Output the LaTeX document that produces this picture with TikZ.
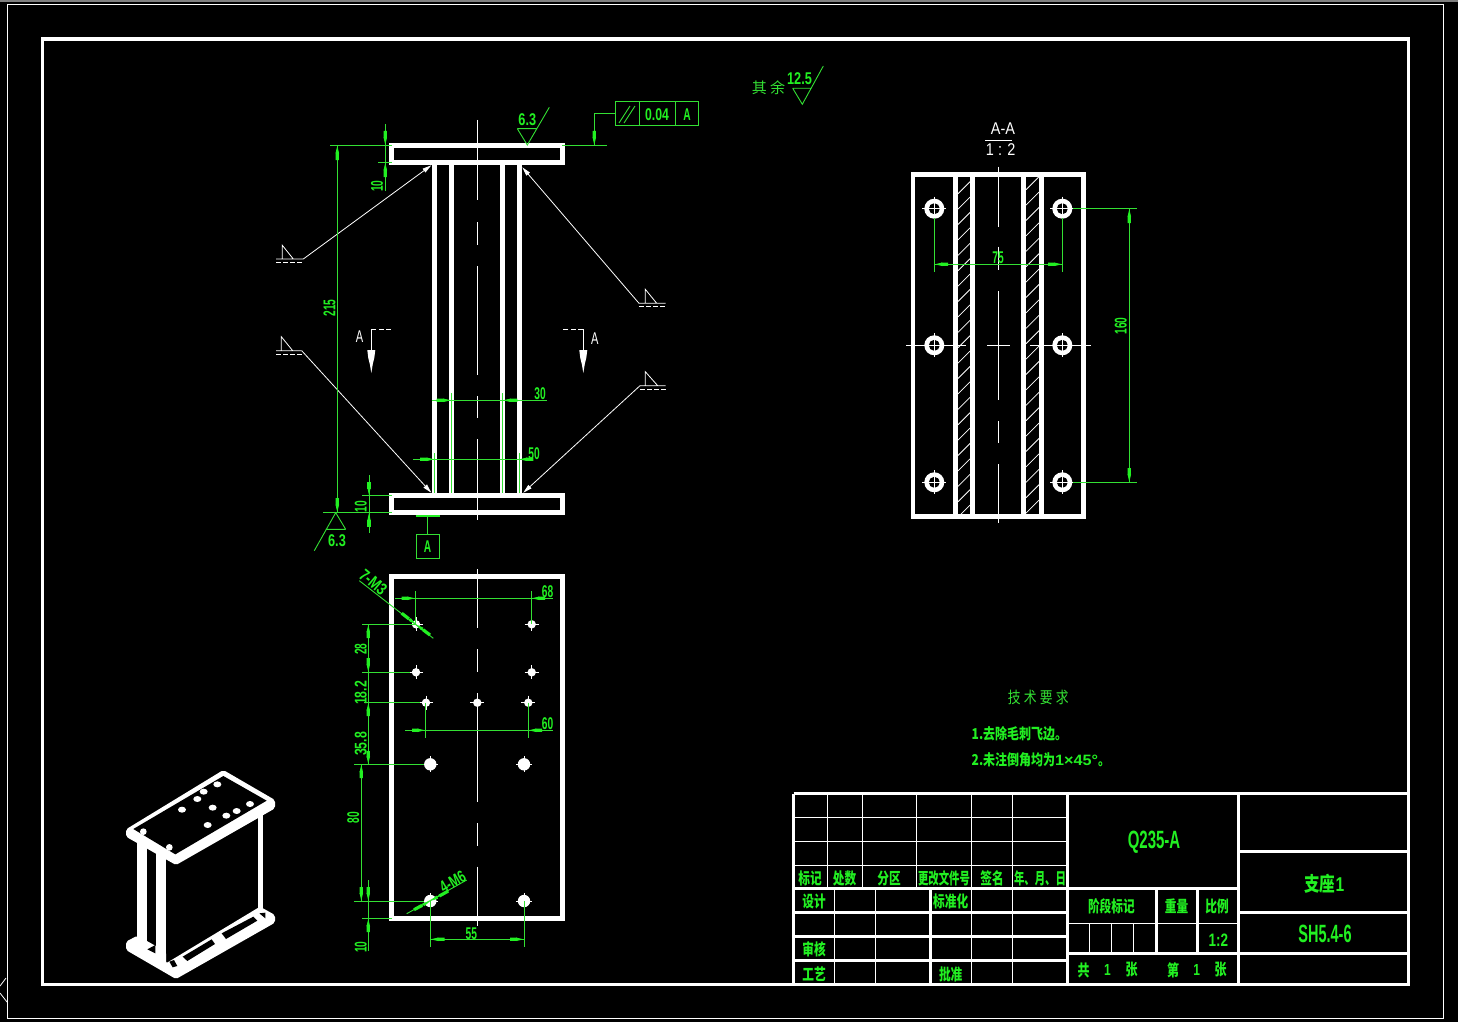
\documentclass[tikz,border=0pt]{standalone}
\usepackage{graphicx}
\usepackage{fontspec}
\setmainfont{Liberation Sans}
\newfontfamily\cjk{Noto Sans CJK SC}
\usetikzlibrary{arrows.meta,calc}
\definecolor{gl}{HTML}{33E033}
\definecolor{gt}{HTML}{22F022}
\newcommand\nrw[2][.6]{\scalebox{#1}[1]{#2}}
\newcommand\AR[2]{\draw[gline,draw=gt,line width=3.2pt] (#1)--($(#1)!.5!(#2)$);\draw[gline,draw=gt,-{Triangle[length=8pt,width=3.2pt]}] ($(#1)!.45!(#2)$)--(#2);}
\newcommand\WA[2]{\draw[wthin,-{Triangle[length=9pt,width=4.5pt]}] (#1)--(#2);}
\newcommand\fsize[1]{\fontsize{#1}{#1}\selectfont}
\tikzset{
 thickw/.style={draw=white,line width=4.6pt},
 framew/.style={draw=white,line width=3.3pt},
 wthin/.style={draw=white,line width=.8pt},
 gline/.style={draw=gl,line width=.9pt},
 dimtx/.style={text=gt,inner sep=0pt,font=\fsize{17}\bfseries},
 cjkb/.style={text=gt,inner sep=0pt,font=\fsize{16}\cjk\bfseries},
 cjkr/.style={text=gl,inner sep=0pt,font=\fsize{16}\cjk},
 whtx/.style={text=white,inner sep=0pt,font=\fsize{17}},
 tthin/.style={draw=white,line width=1pt},
 tfat/.style={draw=white,line width=2.8pt},
}
\begin{document}
\begin{tikzpicture}[x=1pt,y=-1pt]
\useasboundingbox (0,0) rectangle (1458,1022);
\fill[black] (0,0) rectangle (1458,1022);
\fill[gray] (0,0) rectangle (1458,2);
% sheet borders
\draw[wthin,line width=1pt] (7.3,4.5) rectangle (1443.3,1018.3);
\draw[framew] (42.7,39) rectangle (1408.3,984.6);
\draw[wthin] (6,978)--(0,986) (0,993)--(7,1002);
% ---------- front view
\draw[thickw] (391.7,145.6) rectangle (562.4,162.4);
\draw[thickw] (391.7,495.7) rectangle (562.4,512.4);
\foreach \x in {434.5,451.5,502.5,519.5}{\draw[draw=white,line width=4.6pt] (\x,164)--(\x,494);}
\draw[wthin] (477.3,120)--(477.3,200) (477.3,222)--(477.3,245) (477.3,266)--(477.3,375) (477.3,396)--(477.3,418) (477.3,439)--(477.3,520);
% weld symbols
\foreach \xa/\xb/\xc/\xd/\ya/\yb in {276/303.3/282.3/293.3/259/245.3, 639/665.7/645.3/656.7/303.3/289.3, 276/301.7/281.3/292.7/350.7/336.7, 640/665.7/645.3/657.7/385.7/371.7}{
 \draw[wthin] (\xa,\ya)--(\xb,\ya) (\xc,\ya)--(\xc,\yb)--(\xd,\ya);
 \draw[wthin,dash pattern=on 5pt off 2pt] (\xa,\ya+3.5)--(\xb,\ya+3.5);
}
\WA{303.3,259}{431.3,165.3}
\WA{639,303.3}{522.3,167.3}
\WA{301.7,350.7}{431.3,492.7}
\WA{640,385.7}{523.3,492.7}
% section marks
\foreach \x/\xe in {371.3/393.3,583.3/561}{
 \draw[wthin] (\x,350)--(\x,329.3);
 \draw[wthin,dash pattern=on 5pt off 2.5pt] (\x,329.3)--(\xe,329.3);
 \fill[white] (\x-4,350)--(\x+4,350)--(\x+3,358)--(\x+1.5,364)--(\x,373)--(\x-1.5,364)--(\x-3,358)--cycle;
}
\node[whtx] (secAl) at (359.5,336.5) {\nrw[.65]{A}};
\node[whtx] (secAr) at (594.7,339) {\nrw[.65]{A}};
% front view dims
\draw[gline] (330,145.3)--(392,145.3) (323,512.7)--(392,512.7) (378,162.3)--(392,162.3) (362,495.3)--(392,495.3);
\draw[gline] (337.3,145.3)--(337.3,512.7);
\AR{337.3,160}{337.3,145.3}
\AR{337.3,498}{337.3,512.7}
\draw[gline] (385.3,124)--(385.3,190.7);
\AR{385.3,131}{385.3,145.3}
\AR{385.3,177}{385.3,162.3}
\draw[gline] (369,475)--(369,533.3);
\AR{369,482}{369,495.3}
\AR{369,526.5}{369,512.7}
\node[dimtx,rotate=90] (d215) at (329.5,308) {\nrw{215}};
\node[dimtx,rotate=90] (d10a) at (377,186) {\nrw{10}};
\node[dimtx,rotate=90] (d10b) at (360.7,506.7) {\nrw{10}};
% finish top
\draw[gline] (517.3,128.7)--(537.3,128.7) (517.3,128.7)--(527.3,145)--(549.3,107.3);
\node[dimtx] (f63a) at (527.3,120) {\nrw[.75]{6.3}};
% tolerance frame
\draw[gline,line width=1pt] (615.3,101.3) rectangle (698.7,125.3) (639.3,101.3)--(639.3,125.3) (675.3,101.3)--(675.3,125.3);
\draw[gline] (619,123)--(630,106) (624,123)--(635,106);
\node[dimtx] (tol) at (657,115) {\nrw[.72]{0.04}};
\node[dimtx] (tolA) at (687,115) {\nrw{A}};
\draw[gline] (615.3,113.3)--(594.3,113.3)--(594.3,145.3) (562,145.3)--(606.7,145.3);
\AR{594.3,131}{594.3,145.3}
% dims 30 50
\draw[gline] (431.7,400.3)--(546.7,400.3) (413.3,459.3)--(533.3,459.3);
\draw[gline] (451.3,393.3)--(451.3,493) (502.7,393.3)--(502.7,493) (434.7,453.3)--(434.7,493) (519,453.3)--(519,493);
\AR{436.7,400.3}{451.3,400.3}
\AR{517.3,400.3}{502.7,400.3}
\AR{420,459.3}{434.7,459.3}
\AR{533.3,459.3}{519,459.3}
\node[dimtx] (d30) at (540,394) {\nrw{30}};
\node[dimtx] (d50) at (534,453.5) {\nrw{50}};
% datum
\draw[gline,line width=2.8pt,draw=gt] (415.7,516)--(440,516);
\draw[gline] (427.3,516)--(427.3,534.3);
\draw[gline,line width=1pt] (416,534.3) rectangle (439.7,558.7);
\node[dimtx] (datA) at (427.6,547) {\nrw{A}};
% finish bottom
\draw[gline] (325.7,529.3)--(345.7,529.3) (345.7,529.3)--(335.7,512.7)--(314.3,550.7);
\node[dimtx] (f63b) at (337,540.7) {\nrw[.75]{6.3}};
% ---------- plan view
\draw[thickw] (391.7,576.7) rectangle (562.3,918.3);
\draw[wthin] (477.3,569)--(477.3,628.3) (477.3,649)--(477.3,671.7) (477.3,693)--(477.3,801.7) (477.3,823)--(477.3,845.7) (477.3,866.7)--(477.3,925.7);
\foreach \x/\y in {416/624.3,531.7/624.3,416/672.3,531.7/672.3,426/702.7,477.3/702.7,528.3/702.7}{
 \fill[white] (\x,\y) circle[radius=4.2];
 \draw[wthin] (\x-7,\y)--(\x+7,\y) (\x,\y-7)--(\x,\y+7);
}
\foreach \x/\y in {430.3/764.3,524/764.3,430.3/901,524/901}{
 \fill[white] (\x,\y) circle[radius=6.2];
 \draw[wthin] (\x-8,\y)--(\x+8,\y) (\x,\y-8)--(\x,\y+8);
}
% plan dims
\draw[gline] (395,598.3)--(553.3,598.3) (415.3,591)--(415.3,624) (531.3,591)--(531.3,624);
\AR{401.5,598.3}{415.3,598.3}
\AR{545,598.3}{531.3,598.3}
\node[dimtx] (d68) at (547.5,592) {\nrw{68}};
\draw[gline] (405,730.3)--(553.3,730.3) (425.3,702.7)--(425.3,737.7) (528.3,702.7)--(528.3,737.7);
\AR{412,730.3}{425.3,730.3}
\AR{542,730.3}{528.3,730.3}
\node[dimtx] (d60) at (547.5,723.7) {\nrw{60}};
\draw[gline] (359.3,580.7)--(433.3,638.3);
\AR{401.7,613.3}{416,624.3}
\AR{430,635}{416,624.3}
\node[dimtx,rotate=-40] (m3) at (373.3,582.3) {\nrw[.78]{7-M3}};
\draw[gline] (406.7,913.7)--(466.7,880);
\AR{414,909.7}{430.3,901}
\AR{448.3,891}{430.3,901}
\node[dimtx,rotate=30] (m6) at (452.7,881.7) {\nrw[.7]{4-M6}};
\draw[gline] (362,624.3)--(416,624.3) (362,672.3)--(410,672.3) (364,702.7)--(420,702.7) (354,764.3)--(424,764.3) (354,901)--(424,901) (362,918.3)--(392,918.3);
\draw[gline] (368.3,624.3)--(368.3,764.3) (361.3,764.3)--(361.3,901) (368.3,880)--(368.3,951);
\AR{368.3,638}{368.3,624.3}
\AR{368.3,658}{368.3,672.3}
\AR{368.3,716}{368.3,702.7}
\AR{368.3,751}{368.3,764.3}
\AR{361.3,778}{361.3,764.3}
\AR{361.3,887}{361.3,901}
\AR{368.3,887}{368.3,901}
\AR{368.3,932}{368.3,918.3}
\node[dimtx,rotate=90] (d28) at (360.7,649) {\nrw{28}};
\node[dimtx,rotate=90] (d182) at (360.7,693) {\nrw[.72]{18.2}};
\node[dimtx,rotate=90] (d358) at (360.7,744) {\nrw[.72]{35.8}};
\node[dimtx,rotate=90] (d80) at (353.3,817.7) {\nrw{80}};
\node[dimtx,rotate=90] (d10c) at (360.7,947.3) {\nrw{10}};
\draw[gline] (430.3,901)--(430.3,946.7) (524,901)--(524,946.7) (430.3,939.3)--(524,939.3);
\AR{444.5,939.3}{430.3,939.3}
\AR{510,939.3}{524,939.3}
\node[dimtx] (d55) at (471.3,933.3) {\nrw{55}};
% ---------- section A-A
\begin{scope}
\clip (958,176) rectangle (970,515);
\foreach \k in {0,...,22}{\draw[wthin] (958,181.7+\k*15.4+12)--(970,181.7+\k*15.4);}
\end{scope}
\begin{scope}
\clip (1026,176) rectangle (1039,515);
\foreach \k in {0,...,22}{\draw[wthin] (1026,176.7+\k*15.4+13)--(1039,176.7+\k*15.4);}
\end{scope}
\draw[thickw] (913,174.7) rectangle (1083.7,516.3);
\foreach \x in {955.5,972.5,1023.5,1041.5}{\draw[draw=white,line width=4.6pt] (\x,176)--(\x,515);}
\draw[wthin] (998.3,166.7)--(998.3,226.7) (998.3,246.7)--(998.3,270) (998.3,291)--(998.3,400) (998.3,421)--(998.3,443) (998.3,464)--(998.3,523.3);
\draw[wthin] (906,345.3)--(966,345.3) (987,345.3)--(1010,345.3) (1030,345.3)--(1091,345.3);
\foreach \x in {934.3,1062.3}{\foreach \y in {208.7,345.3,482.3}{
 \fill[white] (\x,\y) circle[radius=10];
 \fill[black] (\x,\y) circle[radius=5.5];
 \draw[wthin] (\x-12,\y)--(\x+12,\y) (\x,\y-12)--(\x,\y+12);
}}
\draw[wthin] (985,140.3)--(1012,140.3);
\node[whtx] (aa) at (1003,129) {\nrw[.85]{A-A}};
\node[whtx] (sc) at (1000.7,149.5) {\nrw[.85]{1 : 2}};
\draw[gline] (1073.3,208.7)--(1136.7,208.7) (1073.3,482.3)--(1136.7,482.3) (1129.3,208.7)--(1129.3,482.3);
\AR{1129.3,223}{1129.3,208.7}
\AR{1129.3,468}{1129.3,482.3}
\node[dimtx,rotate=90] (d160) at (1120.7,326) {\nrw{160}};
\draw[gline] (934.3,218)--(934.3,271.7) (1062.3,218)--(1062.3,271.7) (934.3,264.3)--(1062.3,264.3);
\AR{948,264.3}{934.3,264.3}
\AR{1048,264.3}{1062.3,264.3}
\node[dimtx] (d75) at (998,257.3) {\nrw{75}};
% global finish
\node[cjkr,font=\fsize{15}\cjk] (qi) at (759.3,88) {其};
\node[cjkr,font=\fsize{15}\cjk] (yu) at (777.5,88) {余};
\node[dimtx] (f125) at (799.5,79) {\nrw[.75]{12.5}};
\draw[gline] (792.7,88.3)--(811.7,88.3) (792.7,88.3)--(802.3,104.3)--(823.3,66);
% tech notes
\node[cjkr] (tech) at (1038.3,697) {\nrw[.8]{技\hspace{4pt}术\hspace{4pt}要\hspace{4pt}求}};
\node[cjkb,font=\fsize{15}\cjk\bfseries,anchor=west] (n1) at (971.5,733.5) {\nrw[.8]{1.去除毛刺飞边。}};
\node[cjkb,font=\fsize{15}\cjk\bfseries,anchor=west] (n2) at (971.5,759.5) {\nrw[.8]{2.未注倒角均为}\nrw[1.08]{\fontspec{Liberation Sans}1×45°}\nrw[.8]{。}};
% ---------- title block
\draw[tthin] (793.5,817.3)--(1067,817.3) (793.5,841.3)--(1067,841.3) (793.5,865.3)--(1067,865.3);
\foreach \x in {827.4,862.3,916.6,971.2,1012.6}{\draw[tthin] (\x,794)--(\x,888);}
\foreach \x in {834.6,875.6,971.2,1012.6}{\draw[tthin] (\x,888)--(\x,985);}
\draw[tthin] (1067,923.3)--(1238.4,923.3);
\foreach \x in {1089.3,1111.4,1133.5}{\draw[tthin] (\x,923.3)--(\x,953.3);}
\draw[tfat] (793.5,793.8)--(1408,793.8) (793.5,793.8)--(793.5,985);
\draw[tfat] (793.5,888.3)--(1238.4,888.3) (793.5,912.3)--(1067,912.3) (793.5,936.3)--(1067,936.3) (793.5,960.3)--(1067,960.3);
\draw[tfat] (930.2,888.3)--(930.2,985) (1067.2,793.8)--(1067.2,985) (1238.4,793.8)--(1238.4,985);
\draw[tfat] (1067,953.3)--(1238.4,953.3) (1156.4,888.3)--(1156.4,953.3) (1197.4,888.3)--(1197.4,953.3);
\draw[tfat] (1238.4,851.7)--(1408,851.7) (1238.4,912.3)--(1408,912.3) (1238.4,953.3)--(1408,953.3);
\foreach \nm/\x/\y/\s/\t in {
 a1/810/878/.73/标记, a2/844.6/878/.73/处数, a3/889/878/.73/分区, a4/944/878/.65/更改文件号, a5/992/878/.73/签名, a6/1040/878/.65/年、月、日,
 b1/814/901.7/.73/设计, b2/950.7/901.7/.73/标准化, b3/814/949.3/.73/审核, b4/814/974/.73/工艺, b5/950.7/974/.73/批准,
 c1/1111.4/906.7/.73/阶段标记, c2/1176.5/906.7/.73/重量, c3/1217/906.7/.73/比例,
 e1/1083.7/970/.75/共, e3/1131.5/970/.75/张, e4/1173/970/.75/第, e6/1220.7/970/.75/张}{
 \node[cjkb] (\nm) at (\x,\y) {\nrw[\s]{\t}};
}
\node[dimtx,font=\fsize{16}\bfseries] (e2) at (1107.4,970) {\nrw[.75]{1}};
\node[dimtx,font=\fsize{16}\bfseries] (e5) at (1196.6,970) {\nrw[.75]{1}};
\node[dimtx,font=\fsize{18}\bfseries] (r12) at (1218.3,940) {\nrw[.75]{1:2}};
\node[dimtx,font=\fsize{25}\bfseries] (mat) at (1154,842.7) {\nrw[.6]{Q235-A}};
\node[cjkb,font=\fsize{20}\cjk\bfseries] (nm) at (1324.3,883.3) {\nrw[.78]{支座{\fontspec{Liberation Sans}1}}};
\node[dimtx,font=\fsize{25}\bfseries] (no) at (1325,934) {\nrw[.58]{SH5.4-6}};
% ---------- isometric view
\begin{scope}[shift={(100,760)},scale=1/3]
 \fill[white,rounded corners=2pt] (78,208)--(370,30)--(525,120)--(525,145)--(228,315)--(78,230)--cycle;
 \fill[black] (100,207)--(370,48)--(500,122)--(226,283)--cycle;
 \foreach \x/\y in {352/73,311/95,292/117,246/149,338/143,379/167,323/195,410/153,450/132}{\fill[white] (\x,\y) ellipse[x radius=12,y radius=9];}
 \fill[white] (130,215) circle[radius=10] (208,262) circle[radius=10];
 \fill[white] (112,240) rectangle (140,575);
 \fill[white] (168,280) rectangle (198,615);
 \fill[white] (475,165) rectangle (490,450);
 \fill[white,rounded corners=2pt] (78,545)--(112,527)--(198,575)--(198,610)--(480,440)--(525,465)--(525,488)--(228,657)--(78,570)--cycle;
 \fill[black] (248,590)--(335,538)--(345,552)--(262,603)--cycle;
 \fill[black] (365,520)--(460,470)--(472,482)--(378,537)--cycle;
 \fill[black] (208,605)--(222,600)--(232,618)--(218,622)--cycle;
 \fill[black] (478,460)--(496,458)--(496,475)--cycle;
 \fill[black] (142,568)--(166,555)--(166,580)--cycle;
\end{scope}
\end{tikzpicture}
\end{document}
